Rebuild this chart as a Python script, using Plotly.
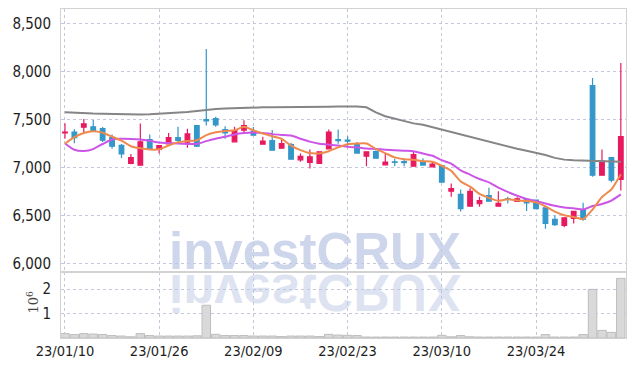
import plotly.graph_objects as go

dates = ["23/01/10","23/01/11","23/01/12","23/01/13","23/01/16","23/01/17","23/01/18","23/01/19","23/01/20",
         "23/01/25","23/01/26","23/01/27","23/01/30","23/01/31","23/02/01","23/02/02","23/02/03","23/02/06",
         "23/02/07","23/02/08","23/02/09","23/02/10","23/02/13","23/02/14","23/02/15","23/02/16","23/02/17",
         "23/02/20","23/02/21","23/02/22","23/02/23","23/02/24","23/02/27","23/02/28","23/03/02","23/03/03",
         "23/03/06","23/03/07","23/03/08","23/03/09","23/03/10","23/03/13","23/03/14","23/03/15","23/03/16",
         "23/03/17","23/03/20","23/03/21","23/03/22","23/03/23","23/03/24","23/03/27","23/03/28","23/03/29",
         "23/03/30","23/03/31","23/04/03","23/04/04","23/04/05","23/04/06"]

opens = [7360,7370,7420,7425,7405,7315,7230,7042,7024,7292,7188,7245,7312,7265,7437,7500,7510,7395,7268,7390,
         7378,7243,7281,7201,7240,7080,7052,7042,7195,7292,7285,7240,7118,7167,7028,7058,7062,7014,7056,7007,
         7021,6753,6719,6597,6622,6708,6597,6674,6646,6667,6660,6580,6458,6396,6469,6560,7854,6920,7104,6875]
highs = [7462,7398,7505,7495,7422,7345,7245,7140,7458,7345,7235,7360,7425,7405,7440,8235,7528,7430,7424,7493,
         7422,7320,7390,7292,7257,7146,7187,7170,7396,7396,7326,7267,7165,7180,7146,7090,7097,7167,7097,7066,
         7025,6833,6771,6784,6694,6788,6753,6694,6690,6670,6665,6585,6500,6480,6550,6632,7934,7187,7110,8090]
lows = [7299,7252,7350,7375,7265,7195,7100,7035,7020,7190,7145,7240,7258,7205,7215,7438,7425,7300,7265,7360,
        7330,7240,7178,7198,7085,7059,6990,7040,7190,7247,7212,7148,7014,7095,7026,7014,7014,7010,7020,7005,
        6845,6694,6540,6590,6590,6645,6595,6625,6640,6545,6565,6361,6390,6378,6417,6445,6903,6915,6847,6760]
closes = [7370,7310,7455,7380,7285,7222,7142,7104,7267,7195,7229,7312,7282,7350,7222,7485,7445,7362,7385,7437,
          7337,7274,7180,7250,7087,7115,7111,7163,7368,7280,7276,7150,7163,7097,7056,7052,7050,7135,7025,7035,
          6847,6781,6570,6750,6656,6649,6625,6667,6674,6632,6570,6417,6403,6476,6542,6462,6920,7066,6868,7323]

ma5 = [7248,7316,7360,7378,7362,7322,7280,7222,7200,7187,7190,7230,7262,7277,7285,7337,7367,7381,7388,7424,
       7388,7355,7325,7298,7228,7181,7150,7147,7170,7210,7243,7250,7250,7195,7150,7105,7085,7080,7066,7060,
       7018,6965,6855,6800,6724,6683,6652,6668,6656,6650,6636,6594,6540,6502,6484,6462,6562,6692,6772,6930]
ma20 = [7250,7185,7172,7192,7245,7292,7299,7298,7292,7278,7260,7255,7250,7246,7245,7275,7300,7320,7345,7360,
        7366,7360,7348,7340,7333,7300,7270,7248,7238,7230,7215,7210,7198,7193,7186,7180,7175,7170,7145,7122,
        7076,7040,6970,6925,6880,6845,6790,6745,6705,6672,6649,6625,6600,6583,6575,6563,6598,6620,6655,6719]
ma60 = [7576,7570,7565,7562,7560,7558,7555,7552,7553,7556,7560,7565,7570,7578,7588,7600,7610,7615,7620,7624,
        7626,7627,7627,7627,7628,7630,7632,7633,7634,7636,7638,7637,7628,7575,7535,7510,7485,7460,7445,7420,
        7396,7370,7345,7315,7290,7265,7240,7220,7195,7175,7155,7130,7100,7082,7075,7072,7068,7066,7063,7060]

volumes = [180000,140000,180000,160000,140000,100000,80000,50000,180000,100000,80000,80000,80000,80000,90000,
           1340000,150000,100000,100000,100000,80000,80000,80000,60000,80000,80000,80000,60000,150000,120000,
           110000,100000,40000,40000,40000,40000,40000,40000,40000,40000,110000,50000,100000,50000,40000,
           40000,40000,40000,40000,40000,40000,140000,40000,40000,40000,140000,1990000,310000,230000,2440000]

tick_dates = ["23/01/10","23/01/26","23/02/09","23/02/23","23/03/10","23/03/24"]
price_ticks = [6000, 6500, 7000, 7500, 8000, 8500]
price_labels = ["6,000","6,500","7,000","7,500","8,000","8,500"]
vol_ticks = [1000000, 2000000]
vol_labels = ["1", "2"]

RED = "#e8195f"
BLUE = "#3397c9"
GRID = "#c3c8dc"
FRAME = "#d2d2d2"
FONT = "Liberation Sans Narrow, DejaVu Sans Condensed, Arial Narrow, sans-serif"
TICKFONT = dict(family=FONT, size=15, color="#1e1e1e")

fig = go.Figure()

fig.add_trace(go.Bar(x=dates, y=volumes, xaxis="x", yaxis="y",
                     marker=dict(color="#d9d9d9", line=dict(color="#bdbdbd", width=1)),
                     width=0.9, showlegend=False, hoverinfo="skip"))

fig.add_trace(go.Scatter(x=dates, y=ma60, xaxis="x2", yaxis="y2", mode="lines",
                         line=dict(color="#858585", width=2), showlegend=False))
fig.add_trace(go.Scatter(x=dates, y=ma20, xaxis="x2", yaxis="y2", mode="lines",
                         line=dict(color="#cc55e8", width=2, shape="spline", smoothing=0.6), showlegend=False))
fig.add_trace(go.Scatter(x=dates, y=ma5, xaxis="x2", yaxis="y2", mode="lines",
                         line=dict(color="#ef8a4f", width=2, shape="spline", smoothing=0.6), showlegend=False))

fig.add_trace(go.Candlestick(x=dates, open=opens, high=highs, low=lows, close=closes,
                             xaxis="x2", yaxis="y2",
                             increasing=dict(line=dict(color=RED, width=1.2), fillcolor=RED),
                             decreasing=dict(line=dict(color=BLUE, width=1.2), fillcolor=BLUE),
                             whiskerwidth=0, showlegend=False))

vol_top = 0.2006
xcommon = dict(type="category", range=[-0.42, 59.55], showgrid=True, gridcolor=GRID, griddash="dot",
               gridwidth=1, tickmode="array", tickvals=tick_dates, showline=True, linecolor=FRAME,
               mirror=True, zeroline=False, ticks="")

fig.update_layout(
    width=634, height=366,
    margin=dict(l=61, r=8, t=9, b=28),
    paper_bgcolor="white", plot_bgcolor="white",
    bargap=0.1,
    xaxis=dict(**xcommon, anchor="y", ticktext=tick_dates,
               tickfont=dict(family=FONT, size=14.5, color="#1e1e1e")),
    xaxis2=dict(**xcommon, anchor="y2", matches="x", showticklabels=False, rangeslider=dict(visible=False)),
    yaxis=dict(domain=[0, vol_top], range=[0, 2700000], tickmode="array", tickvals=vol_ticks,
               ticktext=vol_labels, showgrid=True, gridcolor=GRID, griddash="dot", zeroline=False,
               showline=True, linecolor=FRAME, mirror=True, ticks="", ticklabelstandoff=6,
               tickfont=TICKFONT),
    yaxis2=dict(domain=[vol_top, 1], range=[5910, 8653], tickmode="array", tickvals=price_ticks,
                ticktext=price_labels, showgrid=True, gridcolor=GRID, griddash="dot", zeroline=False,
                showline=True, linecolor=FRAME, mirror=True, ticks="", ticklabelstandoff=6,
                tickfont=TICKFONT),
    annotations=[
        dict(text="investCRUX", xref="paper", yref="paper", x=0.449, y=vol_top, yanchor="bottom",
             xanchor="center", showarrow=False, yshift=-10,
             font=dict(family="Liberation Sans, Arial, sans-serif", size=51, weight="bold",
                       color="rgba(190,200,228,0.75)")),
        dict(text="investCRUX", xref="paper", yref="paper", x=0.449, y=vol_top, yanchor="top",
             xanchor="center", showarrow=False, yshift=10,
             font=dict(family="Liberation Sans, Arial, sans-serif", size=51, weight="bold",
                       color="rgba(190,200,228,0.5)")),
        dict(text="10<sup>6</sup>", xref="paper", yref="paper", x=-0.05, y=0.11, xanchor="center",
             yanchor="middle", textangle=-90, showarrow=False,
             font=dict(family="DejaVu Serif, serif", size=13, color="#444444")),
    ],
)

post = """
(function(){
  var gd = document.getElementById('{plot_id}');
  function flip(){
    var anns = gd.querySelectorAll('.annotation');
    if (anns.length > 1) {
      var a = anns[1];
      a.style.transformBox = 'fill-box';
      a.style.transformOrigin = 'center';
      a.style.transform = 'scaleY(-1)';
    }
  }
  flip();
  if (gd.on) { gd.on('plotly_afterplot', flip); }
})();
"""

fig.write_html("out.html", post_script=post)
